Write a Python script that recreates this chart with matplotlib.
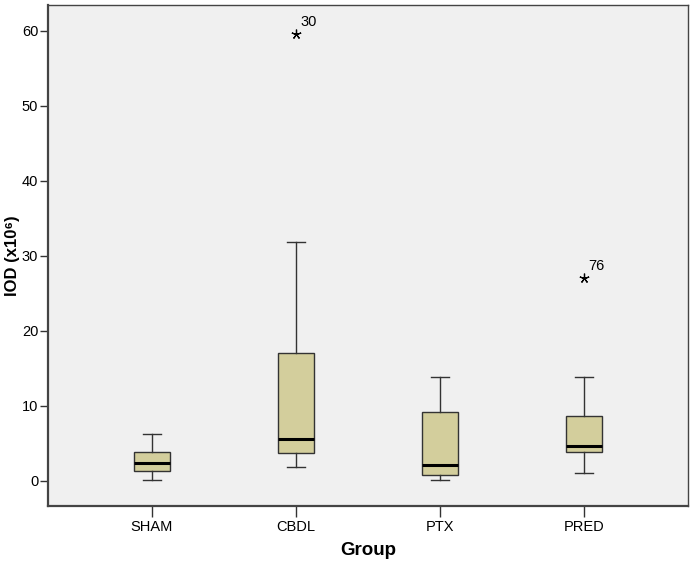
import matplotlib
matplotlib.use("Agg")
import matplotlib.pyplot as plt

plt.rcParams['font.family'] = ['Liberation Sans', 'DejaVu Sans']

groups = ["SHAM", "CBDL", "PTX", "PRED"]
whislo = [0.13, 1.9, 0.13, 1.1]
q1 = [1.37, 3.73, 0.8, 3.82]
med = [2.44, 5.55, 2.13, 4.62]
q3 = [3.86, 17.1, 9.23, 8.66]
whishi = [6.2, 31.8, 13.9, 13.9]
outliers = [[], [59.6], [], [27.1]]
outlier_labels = [[], ["30"], [], ["76"]]
yticks = [0, 10, 20, 30, 40, 50, 60]

fig = plt.figure(figsize=(6.94, 5.65), dpi=100)
ax = fig.add_axes([48/694, 59/565, 640/694, 501/565])
ax.set_facecolor("#F0F0F0")

stats = []
for i, g in enumerate(groups):
    stats.append(dict(label=g, whislo=whislo[i], q1=q1[i], med=med[i],
                      q3=q3[i], whishi=whishi[i], fliers=[]))
pos = [1, 2, 3, 4]
ax.bxp(stats, positions=pos, widths=0.25, patch_artist=True, showfliers=False,
       boxprops=dict(facecolor="#D3CE9C", edgecolor="#333333", linewidth=1.0),
       medianprops=dict(color="black", linewidth=2.2),
       whiskerprops=dict(color="#333333", linewidth=1.0),
       capprops=dict(color="#333333", linewidth=1.0), capwidths=0.125)

for i in range(len(groups)):
    for v, lab in zip(outliers[i], outlier_labels[i]):
        ax.plot(pos[i], v, marker=(5, 2, 0), color="black", markersize=7,
                markeredgewidth=0.9, linestyle="none")
        ax.annotate(lab, (pos[i], v), xytext=(3, 3), textcoords="offset points",
                    fontsize=10.5, ha="left", va="bottom", color="black")

ax.set_xlim(0.278, 4.722)
ax.set_ylim(-3.33, 63.4)
ax.set_yticks(yticks)
ax.set_yticklabels([str(t) for t in yticks], fontsize=10.5)
ax.set_xticks(pos)
ax.set_xticklabels(groups, fontsize=10.5)
ax.tick_params(axis="y", direction="out", length=6, width=1, color="#333333", pad=1)
ax.tick_params(axis="x", direction="out", length=8, width=1, color="#333333", pad=2)

for s in ["left", "bottom"]:
    ax.spines[s].set_linewidth(1.6)
    ax.spines[s].set_color("#444444")
for s in ["top", "right"]:
    ax.spines[s].set_linewidth(1.0)
    ax.spines[s].set_color("#444444")

ax.set_ylabel("IOD (x10\u2076)", fontsize=12, fontweight="bold", va="center")
ax.yaxis.set_label_coords(-0.055, 0.5)
ax.set_xlabel("Group", fontsize=13.5, fontweight="bold", va="center")
ax.xaxis.set_label_coords(0.5, -0.088)

fig.savefig("out.png", dpi=100, facecolor="white")
